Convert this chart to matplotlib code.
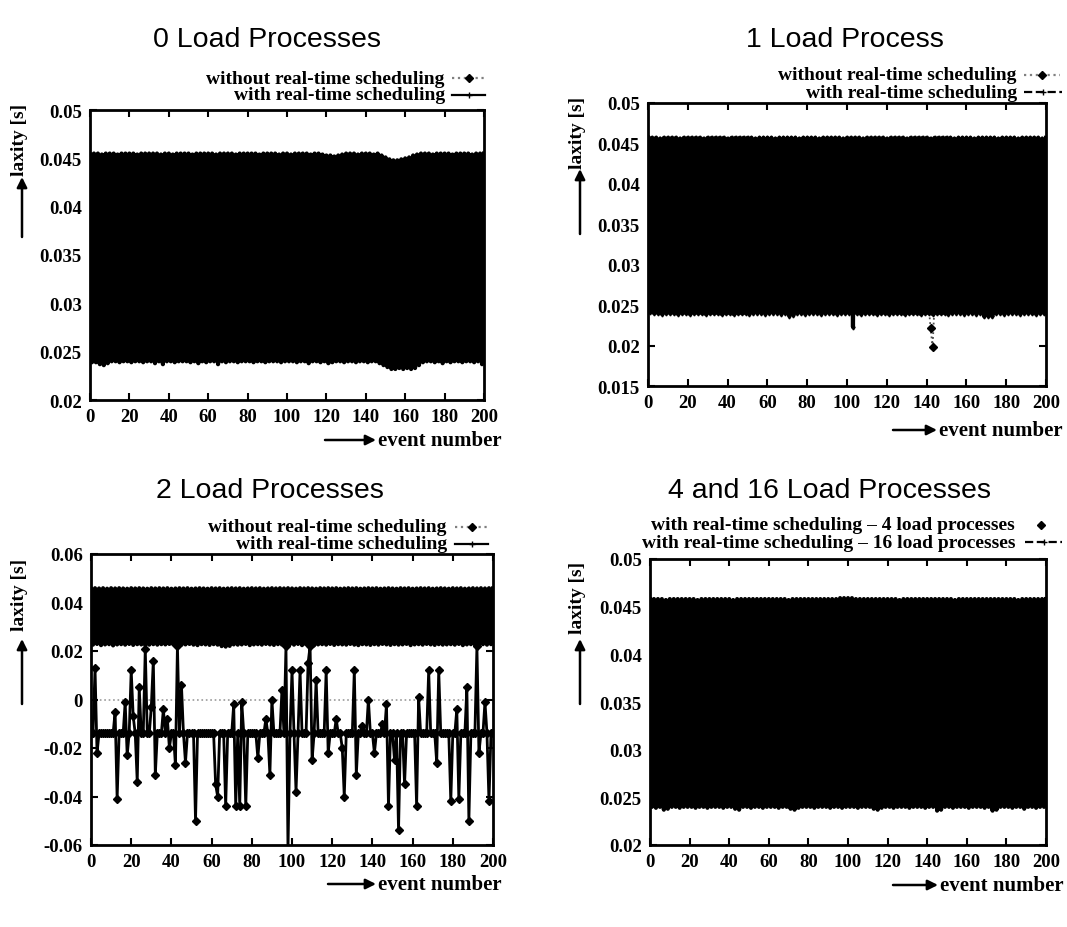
import matplotlib
matplotlib.use("Agg")
import matplotlib.pyplot as plt
from matplotlib.lines import Line2D
from matplotlib.patches import FancyArrowPatch
import numpy as np

# laxity values in milliseconds
# dense series: hi = peaks at events 0,2,...,200 ; lo = troughs at events 1,3,...,199

# 0 load processes, with real-time scheduling
p0_hi = [45.4, 45.5, 45.5, 45.4, 45.5, 45.5, 45.5, 45.4, 45.5, 45.5,
         45.5, 45.5, 45.4, 45.5, 45.5, 45.5, 45.5, 45.5, 45.4, 45.5,
         45.5, 45.4, 45.5, 45.5, 45.5, 45.5, 45.4, 45.5, 45.5, 45.5,
         45.5, 45.5, 45.4, 45.5, 45.5, 45.5, 45.5, 45.4, 45.5, 45.5,
         45.5, 45.5, 45.5, 45.4, 45.5, 45.5, 45.5, 45.5, 45.4, 45.5,
         45.5, 45.4, 45.5, 45.5, 45.5, 45.5, 45.4, 45.5, 45.5, 45.4,
         45.3, 45.3, 45.2, 45.3, 45.4, 45.5, 45.5, 45.5, 45.4, 45.5,
         45.5, 45.5, 45.4, 45.5, 45.3, 45.1, 44.9, 44.8, 44.8, 44.9,
         45.0, 45.1, 45.3, 45.4, 45.5, 45.5, 45.5, 45.4, 45.5, 45.5,
         45.5, 45.5, 45.4, 45.5, 45.5, 45.5, 45.5, 45.4, 45.5, 45.5,
         45.5]
p0_lo = [23.9, 23.9, 23.7, 23.6, 23.8, 24.0, 24.0, 23.9, 24.0, 24.0,
         23.9, 24.0, 24.0, 23.9, 24.0, 24.0, 23.8, 24.0, 23.7, 24.0,
         24.0, 23.9, 24.0, 24.0, 24.0, 23.9, 24.0, 23.8, 24.0, 23.9,
         24.0, 24.0, 23.7, 24.0, 23.9, 24.0, 24.0, 23.9, 24.0, 24.0,
         24.0, 23.9, 24.0, 24.0, 23.9, 24.0, 24.0, 24.0, 23.9, 24.0,
         24.0, 24.0, 23.9, 24.0, 24.0, 23.8, 24.0, 24.0, 23.9, 24.0,
         23.8, 23.9, 24.0, 24.0, 23.9, 24.0, 24.0, 23.9, 24.0, 24.0,
         23.9, 24.0, 24.0, 23.8, 23.6, 23.4, 23.2, 23.2, 23.3, 23.2,
         23.3, 23.2, 23.3, 23.6, 23.9, 24.0, 24.0, 23.9, 24.0, 23.8,
         24.0, 23.9, 24.0, 24.0, 23.9, 24.0, 24.0, 23.9, 24.0, 23.7]
# 0 load processes, without real-time scheduling (hidden under the band)
p0_wo_x = [0, 8, 16, 24, 32, 40, 48, 56, 64, 72, 80, 88, 96, 104, 112, 120,
           128, 136, 144, 152, 160, 168, 176, 184, 192, 200]
p0_wo_y = [44.8, 25.2, 44.6, 25.3, 44.7, 25.1, 44.5, 25.2, 44.6, 25.4, 44.7,
           25.2, 44.5, 25.3, 44.6, 25.1, 44.5, 25.2, 44.4, 25.0, 44.6, 25.3,
           44.5, 25.2, 44.6, 25.1]

# 1 load process
p1_hi = [45.7, 45.7, 45.7, 45.6, 45.7, 45.7, 45.7, 45.7, 45.6, 45.7,
         45.7, 45.7, 45.7, 45.7, 45.6, 45.7, 45.7, 45.7, 45.7, 45.7,
         45.6, 45.7, 45.7, 45.7, 45.7, 45.7, 45.7, 45.6, 45.7, 45.7,
         45.7, 45.7, 45.6, 45.7, 45.7, 45.7, 45.7, 45.7, 45.6, 45.7,
         45.7, 45.7, 45.7, 45.6, 45.7, 45.7, 45.7, 45.7, 45.7, 45.6,
         45.7, 45.7, 45.7, 45.7, 45.6, 45.7, 45.7, 45.7, 45.7, 45.7,
         45.6, 45.7, 45.7, 45.7, 45.7, 45.6, 45.7, 45.7, 45.7, 45.7,
         45.7, 45.6, 45.7, 45.7, 45.7, 45.7, 45.7, 45.6, 45.7, 45.7,
         45.7, 45.7, 45.6, 45.7, 45.7, 45.7, 45.7, 45.7, 45.6, 45.7,
         45.7, 45.7, 45.7, 45.6, 45.7, 45.7, 45.7, 45.7, 45.7, 45.6,
         45.7]
p1_lo = [24.1, 24.0, 24.0, 23.9, 24.0, 24.0, 24.0, 23.9, 24.0, 24.0,
         23.9, 24.0, 24.0, 24.0, 23.9, 24.0, 24.0, 24.0, 23.9, 24.0,
         24.0, 23.9, 24.0, 24.0, 24.0, 23.9, 24.0, 24.0, 24.0, 23.9,
         24.0, 24.0, 24.0, 23.9, 24.0, 23.7, 23.8, 24.0, 24.0, 23.9,
         24.0, 24.0, 24.0, 23.9, 24.0, 24.0, 24.0, 23.9, 24.0, 24.0,
         24.0, 22.3, 24.0, 23.9, 24.0, 24.0, 24.0, 23.9, 24.0, 24.0,
         23.9, 24.0, 24.0, 24.0, 23.9, 24.0, 24.0, 24.0, 23.9, 24.0,
         24.0, 23.9, 24.0, 24.0, 24.0, 23.9, 24.0, 24.0, 24.0, 23.9,
         24.0, 24.0, 23.9, 24.0, 23.6, 23.7, 23.6, 24.0, 24.0, 23.9,
         24.0, 24.0, 24.0, 23.9, 24.0, 24.0, 24.0, 23.9, 24.0, 24.0]
p1_wo_x = [0, 8, 16, 24, 32, 40, 48, 56, 64, 72, 80, 88, 96, 104, 112, 120,
           128, 136, 141, 142, 143, 144, 152, 160, 168, 176, 184, 192, 200]
p1_wo_y = [45.5, 25.5, 44.8, 25.6, 44.9, 25.4, 44.8, 25.5, 44.7, 25.6,
           44.8, 25.5, 44.9, 25.4, 44.8, 25.6, 44.7, 25.5, 25.0, 22.2,
           19.8, 25.2, 44.8, 25.5, 44.7, 25.6, 44.9, 25.4, 44.8]

# 2 load processes
p2_hi = [45.6, 45.9, 45.8, 45.9, 45.7, 45.9, 45.8, 45.9, 45.8, 45.7,
         45.9, 45.8, 45.9, 45.8, 45.7, 45.9, 45.8, 45.9, 45.8, 45.9,
         45.7, 45.8, 45.9, 45.8, 45.9, 45.7, 45.8, 45.9, 45.8, 45.7,
         45.9, 45.8, 45.9, 45.7, 45.8, 45.9, 45.8, 45.9, 45.7, 45.8,
         45.9, 45.8, 45.9, 45.7, 45.8, 45.9, 45.8, 45.9, 45.8, 45.9,
         45.8, 45.7, 45.9, 45.8, 45.9, 45.8, 45.7, 45.9, 45.8, 45.9,
         45.8, 45.9, 45.7, 45.8, 45.9, 45.8, 45.9, 45.7, 45.8, 45.9,
         45.8, 45.9, 45.7, 45.8, 45.9, 45.8, 45.7, 45.9, 45.8, 45.9,
         45.7, 45.8, 45.9, 45.8, 45.9, 45.7, 45.8, 45.9, 45.8, 45.7,
         45.9, 45.8, 45.9, 45.7, 45.8, 45.9, 45.8, 45.9, 45.8, 45.9,
         45.8]
p2_lo = [22.6, 22.9, 22.4, 22.7, 22.8, 22.3, 22.7, 22.8, 22.6, 22.9,
         22.5, 22.8, 22.7, 22.4, 22.6, 22.8, 22.6, 22.8, 22.7, 22.9,
         22.6, 22.8, 22.5, 22.7, 22.9, 22.6, 22.4, 22.8, 22.7, 22.5,
         22.8, 22.6, 22.0, 21.8, 22.1, 22.7, 22.6, 22.7, 22.9, 22.4,
         22.7, 22.8, 22.6, 22.9, 22.7, 22.5, 22.8, 22.6, 22.7, 22.8,
         22.6, 22.9, 22.4, 22.7, 22.8, 22.3, 22.7, 22.8, 22.6, 22.9,
         22.5, 22.8, 22.7, 22.6, 22.9, 22.6, 22.4, 22.8, 22.7, 22.5,
         22.8, 22.6, 22.9, 22.7, 22.5, 22.8, 22.6, 22.7, 22.9, 22.4,
         22.7, 22.8, 22.6, 22.9, 22.7, 22.5, 22.8, 22.6, 22.7, 22.8,
         22.6, 22.9, 22.4, 22.7, 22.8, 22.6, 22.7, 22.8, 22.6, 22.8]
# 2 load processes, without real-time scheduling, one value per event 0..200
p2_wo = [-14, -14, 13, -22, -14, -14, -14, -14, -14, -14,
         -14, -14, -5, -41, -14, -14, -14, -1, -23, -14,
         12, -7, -14, -34, 5, -14, -14, 21, -14, -14,
         -3, 16, -31, -14, -14, -14, -4, -14, -8, -20,
         -14, -14, -27, 22, -14, 6, -14, -26, -14, -14,
         -14, -14, -50, -14, -14, -14, -14, -14, -14, -14,
         -14, -14, -35, -40, -14, -14, -14, -44, -14, -14,
         -14, -2, -44, -14, -44, -1, -14, -44, -14, -14,
         -14, -14, -14, -24, -14, -14, -14, -8, -14, -31,
         0, -14, -14, -14, -14, 4, -14, 22, -62, -14,
         12, -14, -38, -14, 12, -14, -14, -14, 15, 22,
         -25, -14, 8, -14, -14, -14, -14, 12, -22, -14,
         -14, -14, -8, -14, -14, -20, -40, -14, -14, -14,
         -14, 12, -31, -14, -14, -11, -14, -14, 0, -14,
         -14, -22, -14, -14, -14, -10, -14, -2, -44, -14,
         -14, -25, -14, -54, -14, -14, -35, -14, -14, -14,
         -14, -14, -44, 1, -14, -14, -14, -14, 12, -14,
         -14, -14, -26, 12, -14, -14, -14, -14, -14, -42,
         -14, -14, -4, -41, -14, -14, -14, 5, -50, -14,
         -14, -14, 22, -22, -14, -14, -1, -14, -42, -14,
         -14]

# 4 and 16 load processes (16 load processes forms the band)
p3_hi = [45.8, 45.8, 45.8, 45.8, 45.7, 45.8, 45.8, 45.8, 45.8, 45.8,
         45.8, 45.8, 45.7, 45.8, 45.8, 45.8, 45.8, 45.8, 45.8, 45.8,
         45.8, 45.7, 45.8, 45.8, 45.8, 45.8, 45.8, 45.8, 45.8, 45.8,
         45.8, 45.8, 45.8, 45.8, 45.8, 45.7, 45.8, 45.8, 45.8, 45.8,
         45.8, 45.8, 45.8, 45.8, 45.8, 45.8, 45.8, 45.8, 45.9, 45.9,
         45.9, 45.9, 45.8, 45.8, 45.8, 45.8, 45.8, 45.8, 45.8, 45.8,
         45.8, 45.8, 45.8, 45.7, 45.8, 45.8, 45.8, 45.8, 45.8, 45.8,
         45.8, 45.8, 45.8, 45.8, 45.8, 45.8, 45.8, 45.7, 45.8, 45.8,
         45.8, 45.8, 45.8, 45.8, 45.8, 45.8, 45.8, 45.8, 45.8, 45.8,
         45.8, 45.8, 45.8, 45.7, 45.8, 45.8, 45.8, 45.8, 45.8, 45.8,
         45.8]
p3_lo = [24.0, 23.9, 24.0, 23.7, 23.8, 24.0, 24.0, 23.9, 24.0, 24.0,
         24.0, 23.9, 24.0, 24.0, 23.9, 24.0, 24.0, 24.0, 23.9, 24.0,
         24.0, 23.8, 23.7, 24.0, 24.0, 23.9, 24.0, 24.0, 23.9, 24.0,
         24.0, 24.0, 23.9, 24.0, 24.0, 23.8, 23.7, 23.9, 24.0, 24.0,
         24.0, 23.9, 24.0, 24.0, 24.0, 23.9, 24.0, 24.0, 23.9, 24.0,
         24.0, 24.0, 23.9, 24.0, 24.0, 24.0, 23.8, 23.7, 23.9, 24.0,
         24.0, 23.9, 24.0, 24.0, 24.0, 23.9, 24.0, 24.0, 24.0, 23.9,
         24.0, 24.0, 23.6, 23.7, 24.0, 24.0, 23.9, 24.0, 24.0, 24.0,
         23.9, 24.0, 24.0, 24.0, 23.9, 24.0, 23.6, 23.7, 24.0, 24.0,
         24.0, 23.9, 24.0, 24.0, 23.8, 24.0, 24.0, 23.9, 24.0, 24.0]
p3_4_x = [0, 8, 16, 24, 32, 40, 48, 56, 64, 72, 80, 88, 96, 104, 112, 120,
          128, 136, 144, 152, 160, 168, 176, 184, 192, 200]
p3_4_y = [44.9, 25.3, 44.7, 25.1, 44.6, 25.4, 44.8, 25.2, 44.5, 25.3, 44.7,
          25.2, 44.6, 25.5, 44.8, 25.1, 44.7, 25.6, 44.5, 25.2, 44.8, 25.3,
          44.6, 25.2, 44.7, 25.4]

xticks = [0, 20, 40, 60, 80, 100, 120, 140, 160, 180, 200]
yt_a = [0.02, 0.025, 0.03, 0.035, 0.04, 0.045, 0.05]
yl_a = ["0.02", "0.025", "0.03", "0.035", "0.04", "0.045", "0.05"]
yt_b = [0.015, 0.02, 0.025, 0.03, 0.035, 0.04, 0.045, 0.05]
yl_b = ["0.015", "0.02", "0.025", "0.03", "0.035", "0.04", "0.045", "0.05"]
yt_c = [-0.06, -0.04, -0.02, 0, 0.02, 0.04, 0.06]
yl_c = ["-0.06", "-0.04", "-0.02", "0", "0.02", "0.04", "0.06"]

titles = ["0 Load Processes", "1 Load Process", "2 Load Processes",
          "4 and 16 Load Processes"]
lab_wo = "without real-time scheduling"
lab_with = "with real-time scheduling"
lab_4 = "with real-time scheduling \u2013 4 load processes"
lab_16 = "with real-time scheduling \u2013 16 load processes"

W, H = 1067, 928
def fx(px):
    return px / W
def fy(py):
    return 1 - py / H

SERIF = "Liberation Serif"

def band(hi, lo):
    n = len(hi) + len(lo)
    ev = np.arange(n)
    val = np.zeros(n)
    val[0::2] = hi
    val[1::2] = lo
    return ev, val / 1000.0

fig = plt.figure(figsize=(W / 100, H / 100), dpi=100)

# axes rectangles in pixels: left, top, right, bottom
rects = [(90, 111, 484, 401), (648, 104, 1046, 387),
         (91, 555, 493, 846), (650, 560, 1046, 846)]
axs = []
for (l, t, r, b) in rects:
    ax = fig.add_axes([fx(l), fy(b), (r - l) / W, (b - t) / H])
    axs.append(ax)

def style(ax, yt, yl):
    ax.set_xlim(0, 200)
    ax.set_ylim(yt[0], yt[-1])
    ax.set_xticks(xticks)
    ax.set_xticklabels([str(v) for v in xticks])
    ax.set_yticks(yt)
    ax.set_yticklabels(yl)
    ax.tick_params(direction="in", top=True, right=True, length=5, width=1.5,
                   labelsize=13.5, pad=6)
    for lab in ax.get_xticklabels() + ax.get_yticklabels():
        lab.set_family(SERIF)
        lab.set_fontweight("bold")
    for s in ax.spines.values():
        s.set_linewidth(2.0)

BAND_LW = 3.0

# panel 0
ax = axs[0]
ax.plot(p0_wo_x, np.array(p0_wo_y) / 1000, color="0.5", ls=":", lw=1,
        marker="D", ms=3, mfc="k", mec="k", zorder=1)
x, y = band(p0_hi, p0_lo)
ax.plot(x, y, color="k", lw=BAND_LW, zorder=2)
style(ax, yt_a, yl_a)

# panel 1
ax = axs[1]
ax.plot(p1_wo_x, np.array(p1_wo_y) / 1000, color="0.3", ls=":", lw=1.3,
        marker="D", ms=4.5, mfc="k", mec="k", zorder=1)
x, y = band(p1_hi, p1_lo)
ax.plot(x, y, color="k", lw=BAND_LW, marker="d", ms=2.5, zorder=2)
style(ax, yt_b, yl_b)

# panel 2
ax = axs[2]
ax.axhline(0, color="0.6", ls=":", lw=1.2, zorder=1)
x, y = band(p2_hi, p2_lo)
ax.plot(x, y, color="k", lw=BAND_LW, zorder=2)
ax.plot(np.arange(len(p2_wo)), np.array(p2_wo) / 1000, color="k", lw=2.0,
        marker="D", ms=4.5, zorder=3)
style(ax, yt_c, yl_c)

# panel 3
ax = axs[3]
ax.plot(p3_4_x, np.array(p3_4_y) / 1000, color="k", ls="none", marker="D",
        ms=4, zorder=1)
x, y = band(p3_hi, p3_lo)
ax.plot(x, y, color="k", lw=BAND_LW, zorder=2)
style(ax, yt_a, yl_a)

# legends, drawn row by row (text then sample on the right)
def legend_row(y, text, right, s0, s1, ls, lcol, marker, ms):
    fig.text(fx(right), fy(y), text, ha="right", va="center", fontsize=14,
             family=SERIF, fontweight="bold")
    if ls != "none":
        fig.add_artist(Line2D([fx(s0), fx(s1)], [fy(y), fy(y)],
                              transform=fig.transFigure, color=lcol, ls=ls,
                              lw=1.6))
    xm = (s0 + s1) / 2 if ls != "none" else s0
    fig.add_artist(Line2D([fx(xm)], [fy(y)], transform=fig.transFigure,
                          color="k", marker=marker, ms=ms, ls="none"))

legend_row(79, lab_wo, 445, 452, 485, ":", "0.5", "D", 4)
legend_row(96, lab_with, 445, 452, 485, "-", "k", "+", 5)
legend_row(76, lab_wo, 1017, 1024, 1060, ":", "0.5", "D", 4)
legend_row(93, lab_with, 1017, 1024, 1062, "--", "k", "+", 5)
legend_row(528, lab_wo, 447, 455, 488, ":", "0.5", "D", 4)
legend_row(545, lab_with, 447, 455, 488, "-", "k", "+", 5)
legend_row(526, lab_4, 1015, 1041, 1041, "none", "k", "D", 4)
legend_row(543, lab_16, 1015, 1025, 1062, "--", "k", "+", 5)

# titles
for t, (px, py) in zip(titles, [(267, 40), (845, 40), (270, 491), (830, 491)]):
    fig.text(fx(px), fy(py), t, ha="center", va="center", fontsize=20.5,
             family="Liberation Sans")

def arrow(x0, y0, x1, y1):
    fig.add_artist(FancyArrowPatch((fx(x0), fy(y0)), (fx(x1), fy(y1)),
                                   transform=fig.transFigure, arrowstyle="-|>",
                                   mutation_scale=15, lw=1.8, color="k",
                                   shrinkA=0, shrinkB=0))

# y axis labels with up arrows
for (lx, ly, ab, at) in [(20, 140, 238, 178), (578, 133, 235, 170),
                         (20, 595, 705, 640), (578, 598, 705, 640)]:
    fig.text(fx(lx), fy(ly), "laxity [s]", rotation=90, ha="center",
             va="center", fontsize=14, family=SERIF, fontweight="bold")
    arrow(lx + 2, ab, lx + 2, at)

# x axis labels with right arrows
for (a0, a1, ty) in [(325, 376, 441), (893, 937, 431),
                     (328, 376, 885), (893, 938, 886)]:
    arrow(a0, ty, a1, ty)
    fig.text(fx(a1 + 2), fy(ty), "event number", ha="left", va="center",
             fontsize=15, family=SERIF, fontweight="bold")

fig.savefig("out.png", dpi=100)
